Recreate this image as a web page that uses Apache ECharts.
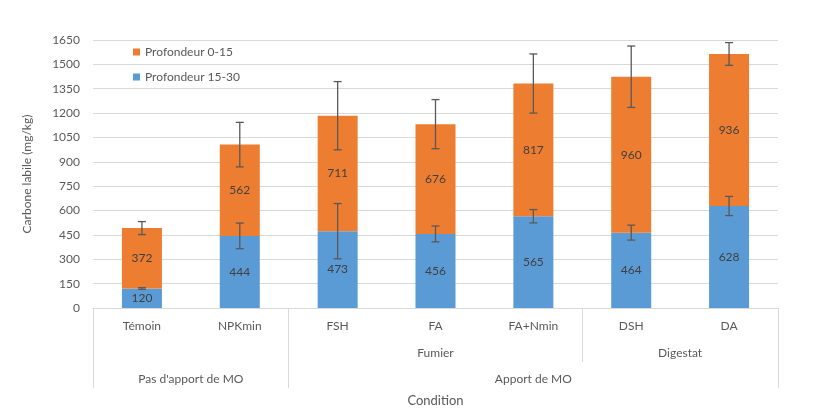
<!DOCTYPE html>
<html><head><meta charset="utf-8">
<script src="https://cdn.jsdelivr.net/npm/echarts@6/dist/echarts.min.js"></script>
<style>html,body{margin:0;padding:0;background:#fff}#c{width:819px;height:419px}</style>
</head><body><div id="c"></div>
<script>
const categories = ['Témoin','NPKmin','FSH','FA','FA+Nmin','DSH','DA'];
const deep = [120,444,473,456,565,464,628];       // Profondeur 15-30
const shallow = [372,562,711,676,817,960,936];    // Profondeur 0-15
const deepErr = [5,79,170,49,41,46,59];
const shallowErr = [40,137,210,151,182,189,70];
const groupPos = [7,12];
const groupNames = ['Fumier','Digestat'];
const groupSeps = [10];
const topPos = [2,9];
const topNames = ["Pas d'apport de MO",'Apport de MO'];
const topSeps = [0,4,14];
const yTicks = [0,150,300,450,600,750,900,1050,1200,1350,1500,1650];

const FONT = 'Lato';
const TXT = '#595959';
const chart = echarts.init(document.getElementById('c'));

const errDeep = categories.map((c,i)=>[i, deep[i]-deepErr[i], deep[i]+deepErr[i]]);
const errShallow = categories.map((c,i)=>{const t=deep[i]+shallow[i];return [i, t-shallowErr[i], t+shallowErr[i]];});

function errRender(params, api){
  const x = api.value(0);
  const lo = api.coord([x, api.value(1)]);
  const hi = api.coord([x, api.value(2)]);
  const w = 4;
  const st = {stroke:'#595959', lineWidth:1.3};
  return {type:'group', children:[
    {type:'line', shape:{x1:lo[0],y1:lo[1],x2:hi[0],y2:hi[1]}, style:st},
    {type:'line', shape:{x1:lo[0]-w,y1:lo[1],x2:lo[0]+w,y2:lo[1]}, style:st},
    {type:'line', shape:{x1:hi[0]-w,y1:hi[1],x2:hi[0]+w,y2:hi[1]}, style:st}
  ]};
}

const mapLabel = (pos, names) => v => { const k = pos.indexOf(Math.round(v)); return k>=0 ? names[k] : ''; };

chart.setOption({
  backgroundColor:'#ffffff',
  textStyle:{fontFamily:FONT},
  grid:{left:93,right:41,top:40,bottom:111,containLabel:false},
  legend:{
    data:['Profondeur 0-15','Profondeur 15-30'],
    orient:'vertical', left:128, top:41, itemWidth:7, itemHeight:7, itemGap:13,
    icon:'rect', textStyle:{color:TXT,fontSize:12,fontFamily:FONT}
  },
  xAxis:[
    {type:'category', data:categories, position:'bottom',
     axisLine:{show:true,lineStyle:{color:'#d9d9d9'}}, axisTick:{show:false},
     axisLabel:{color:TXT,fontSize:12,margin:12,fontFamily:FONT},
     name:'Condition', nameLocation:'middle', nameGap:86,
     nameTextStyle:{color:TXT,fontSize:13,fontFamily:FONT}},
    {type:'value', min:0, max:14, position:'bottom', splitLine:{show:false},
     axisLine:{show:false},
     axisTick:{show:true, customValues:groupSeps, length:54, lineStyle:{color:'#d9d9d9'}},
     axisLabel:{show:true, customValues:groupPos, formatter:mapLabel(groupPos,groupNames), color:TXT, fontSize:12, margin:39, fontFamily:FONT}},
    {type:'value', min:0, max:14, position:'bottom', splitLine:{show:false},
     axisLine:{show:false},
     axisTick:{show:true, customValues:topSeps, length:80, lineStyle:{color:'#d9d9d9'}},
     axisLabel:{show:true, customValues:topPos, formatter:mapLabel(topPos,topNames), color:TXT, fontSize:12, margin:65, fontFamily:FONT}}
  ],
  yAxis:{type:'value', min:0, max:1650, interval:150,
    axisLine:{show:false}, axisTick:{show:false},
    splitLine:{lineStyle:{color:'#d9d9d9'}},
    axisLabel:{color:TXT,fontSize:12,margin:13,fontFamily:FONT,formatter:v=>String(v)},
    name:'Carbone labile (mg/kg)', nameLocation:'middle', nameGap:60,
    nameTextStyle:{color:TXT,fontSize:12,fontFamily:FONT}},
  series:[
    {name:'Profondeur 15-30', type:'bar', stack:'s', data:deep, barWidth:40,
     itemStyle:{color:'#5B9BD5'},
     label:{show:true,position:'inside',color:'#404040',fontSize:12,fontFamily:FONT}},
    {name:'Profondeur 0-15', type:'bar', stack:'s', data:shallow, barWidth:40,
     itemStyle:{color:'#ED7D31'},
     label:{show:true,position:'inside',color:'#404040',fontSize:12,fontFamily:FONT}},
    {type:'custom', name:'errDeep', data:errDeep, renderItem:errRender, z:10, silent:true},
    {type:'custom', name:'errShallow', data:errShallow, renderItem:errRender, z:10, silent:true}
  ]
});
</script></body></html>
